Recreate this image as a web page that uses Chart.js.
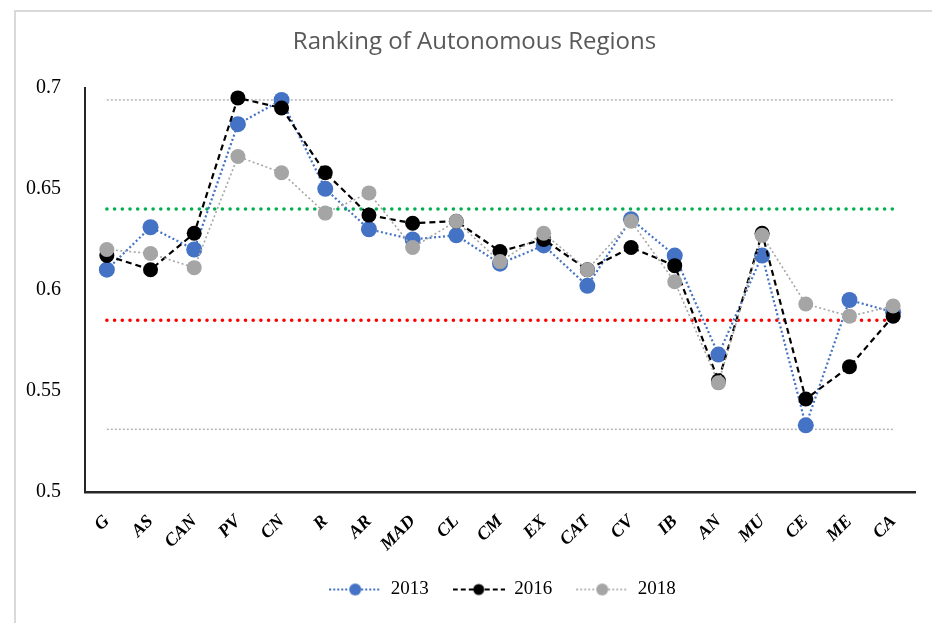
<!DOCTYPE html>
<html>
<head>
<meta charset="utf-8">
<script src="https://cdn.jsdelivr.net/npm/chart.js@4.4.0/dist/chart.umd.min.js"></script>
<style>
  html, body { margin: 0; padding: 0; background: #fff; }
  #wrap { position: relative; width: 932px; height: 623px; overflow: hidden; }
  #frame { position: absolute; left: 14px; top: 10px; width: 940px; height: 640px;
           border-left: 2px solid #d9d9d9; border-top: 2px solid #d9d9d9; }
  #box { position: absolute; left: 0; top: 0; width: 932px; height: 623px; }
</style>
</head>
<body>
<div id="wrap">
  <div id="frame"></div>
  <div id="box"><canvas id="myChart"></canvas></div>
</div>
<script>
// regions
var categories = ['G', 'AS', 'CAN', 'PV', 'CN', 'R', 'AR', 'MAD', 'CL', 'CM', 'EX', 'CAT', 'CV', 'IB', 'AN', 'MU', 'CE', 'ME', 'CA'];

var values2013 = [0.610, 0.631, 0.620, 0.682, 0.694, 0.650, 0.630, 0.625, 0.627, 0.613, 0.622, 0.602, 0.635, 0.617, 0.568, 0.617, 0.533, 0.595, 0.589];
var values2016 = [0.617, 0.610, 0.628, 0.695, 0.690, 0.658, 0.637, 0.633, 0.634, 0.619, 0.625, 0.610, 0.621, 0.612, 0.555, 0.628, 0.546, 0.562, 0.587];
var values2018 = [0.620, 0.618, 0.611, 0.666, 0.658, 0.638, 0.648, 0.621, 0.634, 0.614, 0.628, 0.610, 0.634, 0.604, 0.554, 0.627, 0.593, 0.587, 0.592];

// horizontal reference lines (top grey, green, red, bottom grey)
var refLevels = [0.694, 0.640, 0.585, 0.531];
var refColors = ['#b4b4b4', '#00b050', '#ff0000', '#b4b4b4'];

var yTicks = [0.5, 0.55, 0.6, 0.65, 0.7];

function legendIcon(color, dash, width, radius) {
  var c = document.createElement('canvas');
  c.width = 52;
  c.height = 18;
  var g = c.getContext('2d');
  g.strokeStyle = color;
  g.lineWidth = width;
  g.setLineDash(dash);
  g.beginPath();
  g.moveTo(0, 9);
  g.lineTo(52, 9);
  g.stroke();
  g.fillStyle = color;
  g.beginPath();
  g.arc(26, 9, radius, 0, 2 * Math.PI);
  g.fill();
  return c;
}

var icons = [
  legendIcon('#4472c4', [2, 2], 2, 6),
  legendIcon('#000000', [5, 3], 2, 5.5),
  legendIcon('#a5a5a5', [2, 2], 1.5, 6)
];

// order: lower value ends up on top, so grey 2018 sits above black and blue
var datasets = [
  {
    label: '2013', data: values2013, order: 3,
    borderColor: '#4472c4', backgroundColor: '#4472c4', borderWidth: 2.2, borderDash: [2, 2.5],
    pointRadius: 8, pointBorderWidth: 0, pointBackgroundColor: '#4472c4', tension: 0
  },
  {
    label: '2016', data: values2016, order: 2,
    borderColor: '#000000', backgroundColor: '#000000', borderWidth: 2.2, borderDash: [6, 4],
    pointRadius: 7.5, pointBorderWidth: 0, pointBackgroundColor: '#000000', tension: 0
  },
  {
    label: '2018', data: values2018, order: 1,
    borderColor: '#a5a5a5', backgroundColor: '#a5a5a5', borderWidth: 1.6, borderDash: [2, 2.5],
    pointRadius: 7.5, pointBorderWidth: 0, pointBackgroundColor: '#a5a5a5', tension: 0
  }
];

for (var i = 0; i < refLevels.length; i++) {
  var thick = (i == 1 || i == 2);
  datasets.push({
    label: 'ref' + i,
    data: [{x: categories[0], y: refLevels[i]}, {x: categories[categories.length - 1], y: refLevels[i]}],
    order: 10,
    borderColor: refColors[i],
    borderWidth: thick ? 3.5 : 1.5,
    borderDash: thick ? [0.1, 7.6] : [2, 2],
    borderCapStyle: thick ? 'round' : 'butt',
    pointRadius: 0,
    tension: 0
  });
}

// title sits a bit right of centre, legend is centred under the plot area
var boxShift = {
  id: 'boxShift',
  afterLayout: function(chart) {
    chart.titleBlock.left += 17;
    chart.titleBlock.right += 17;
    chart.legend.left += 45;
    chart.legend.right += 45;
  }
};

const ctx = document.getElementById('myChart');
new Chart(ctx, {
  type: 'line',
  data: { labels: categories, datasets: datasets },
  plugins: [boxShift],
  options: {
    responsive: true,
    maintainAspectRatio: false,
    animation: false,
    layout: { padding: { left: 0, right: 17, top: 0, bottom: 14 } },
    plugins: {
      tooltip: { enabled: false },
      title: {
        display: true,
        text: 'Ranking of Autonomous Regions',
        color: '#595959',
        font: { family: 'Open Sans', size: 24, weight: 'normal' },
        padding: { top: 28, bottom: 31 }
      },
      legend: {
        position: 'bottom',
        labels: {
          usePointStyle: true,
          pointStyleWidth: 52,
          padding: 24,
          color: '#000',
          font: { family: 'Liberation Serif', size: 19 },
          filter: function(item) { return item.datasetIndex < 3; },
          sort: function(a, b) { return a.datasetIndex - b.datasetIndex; },
          generateLabels: function(chart) {
            var items = Chart.defaults.plugins.legend.labels.generateLabels(chart);
            items.forEach(function(it) {
              if (it.datasetIndex < 3) it.pointStyle = icons[it.datasetIndex];
            });
            return items;
          }
        }
      }
    },
    scales: {
      x: {
        offset: true,
        grid: { display: false, offset: true },
        border: { display: true, color: '#262626', width: 2.5 },
        ticks: {
          color: '#000',
          autoSkip: false,
          maxRotation: 45,
          minRotation: 45,
          padding: 11,
          font: { family: 'Liberation Serif', size: 18, weight: 'bold', style: 'italic' }
        },
        afterFit: function(scale) { scale.height = 64; }
      },
      y: {
        min: 0.5,
        max: 0.7,
        afterBuildTicks: function(scale) {
          scale.ticks = yTicks.map(function(v) { return {value: v}; });
        },
        grid: { display: false },
        border: { display: true, color: '#262626', width: 2 },
        ticks: {
          color: '#000',
          padding: 16,
          font: { family: 'Liberation Serif', size: 20 },
          callback: function(v) { return String(v); }
        },
        afterFit: function(scale) { scale.width = 85; }
      }
    }
  }
});
</script>
</body>
</html>
